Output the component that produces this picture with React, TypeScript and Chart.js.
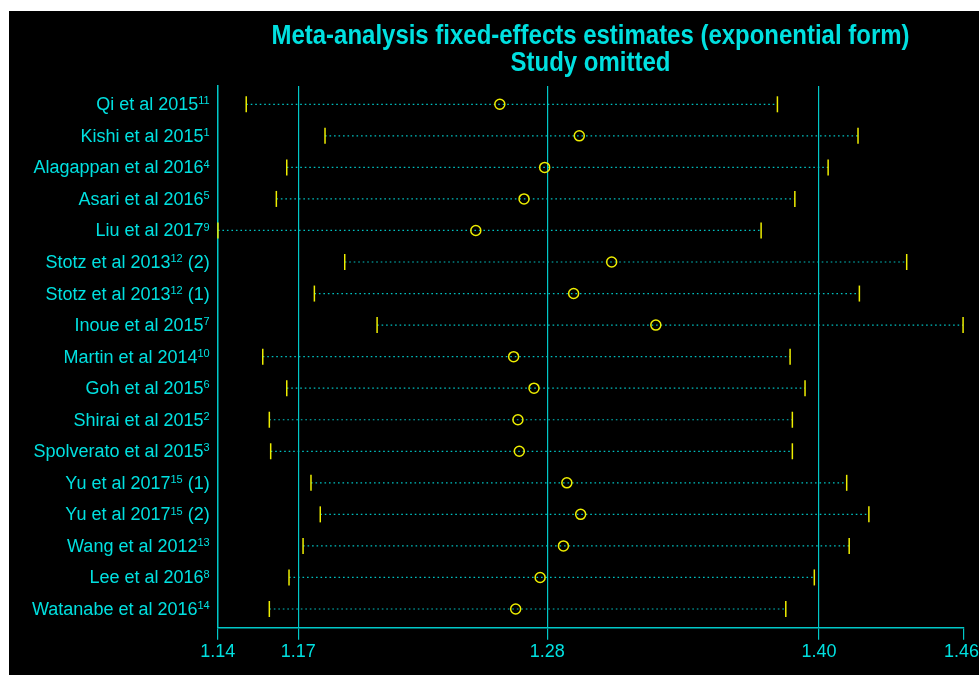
import React, { useEffect, useRef } from "react";
import { Chart, registerables } from "chart.js";

Chart.register(...registerables);

const studyNames = [
  "Qi et al 2015",
  "Kishi et al 2015",
  "Alagappan et al 2016",
  "Asari et al 2016",
  "Liu et al 2017",
  "Stotz et al 2013",
  "Stotz et al 2013",
  "Inoue et al 2015",
  "Martin et al 2014",
  "Goh et al 2015",
  "Shirai et al 2015",
  "Spolverato et al 2015",
  "Yu et al 2017",
  "Yu et al 2017",
  "Wang et al 2012",
  "Lee et al 2016",
  "Watanabe et al 2016",
];
const refNumbers = [
  "11", "1", "4", "5", "9", "12", "12", "7", "10", "6", "2", "3", "15", "15", "13", "8", "14",
];
const studySuffix = [
  "", "", "", "", "", " (2)", " (1)", "", "", "", "", "", " (1)", " (2)", "", "", "",
];

const estimates = [
  1.259, 1.2941, 1.2788, 1.2697, 1.2484, 1.3084, 1.2916, 1.3279, 1.2651,
  1.2741, 1.267, 1.2676, 1.2886, 1.2947, 1.2871, 1.2768, 1.266,
];
const lowerCI = [
  1.147, 1.1818, 1.1649, 1.1603, 1.1345, 1.1905, 1.1771, 1.2048, 1.1543,
  1.1649, 1.1572, 1.1578, 1.1756, 1.1797, 1.1721, 1.1659, 1.1572,
];
const upperCI = [
  1.3816, 1.4172, 1.404, 1.3893, 1.3744, 1.4387, 1.4178, 1.4636, 1.3872,
  1.3938, 1.3882, 1.3882, 1.4122, 1.422, 1.4133, 1.3979, 1.3853,
];

const xTickValues = [1.1344, 1.17, 1.28, 1.4, 1.4637];
const xTickLabels = ["1.14", "1.17", "1.28", "1.40", "1.46"];

const titleLines = [
  "Meta-analysis fixed-effects estimates (exponential form)",
  "Study omitted",
];

const TEXT = "#00e0e0";
const AXIS = "#00c8c8";
const DOT = "#00c0c0";
const YEL = "#eeee00";
const SANS = "'Liberation Sans', Arial, sans-serif";

const titlePlugin = {
  id: "condensedTitle",
  afterDraw(chart: any) {
    const ctx = chart.ctx as CanvasRenderingContext2D;
    const area = chart.chartArea;
    const cx = (area.left + area.right) / 2;
    ctx.save();
    ctx.fillStyle = TEXT;
    ctx.font = `bold 27px ${SANS}`;
    ctx.textAlign = "center";
    ctx.textBaseline = "middle";
    const w0 = ctx.measureText(titleLines[0]).width;
    const k = 638 / w0;
    ctx.translate(cx, 0);
    ctx.scale(k, 1);
    ctx.fillText(titleLines[0], 0, 26);
    ctx.fillText(titleLines[1], 0, 53);
    ctx.restore();
  },
};

const labelPlugin = {
  id: "axisLabels",
  afterDraw(chart: any) {
    const ctx = chart.ctx as CanvasRenderingContext2D;
    const yScale = chart.scales.y;
    const xScale = chart.scales.x;
    const right = chart.chartArea.left - 8;
    ctx.save();
    ctx.fillStyle = TEXT;
    ctx.textBaseline = "alphabetic";
    ctx.textAlign = "left";
    studyNames.forEach((name, i) => {
      const y = yScale.getPixelForValue(i + 1) + 6;
      ctx.font = `18px ${SANS}`;
      const wBase = ctx.measureText(name).width;
      const wSuf = ctx.measureText(studySuffix[i]).width;
      ctx.font = `11px ${SANS}`;
      const wSup = ctx.measureText(refNumbers[i]).width;
      let x = right - (wBase + wSup + wSuf);
      ctx.font = `18px ${SANS}`;
      ctx.fillText(name, x, y);
      x += wBase;
      ctx.font = `11px ${SANS}`;
      ctx.fillText(refNumbers[i], x, y - 5.8);
      x += wSup;
      if (studySuffix[i]) {
        ctx.font = `18px ${SANS}`;
        ctx.fillText(studySuffix[i], x, y);
      }
    });
    ctx.font = `18px ${SANS}`;
    ctx.textBaseline = "top";
    ctx.textAlign = "left";
    const ty = chart.chartArea.bottom + 15;
    xTickValues.forEach((v, i) => {
      const w = ctx.measureText(xTickLabels[i]).width;
      let lx = xScale.getPixelForValue(v) - w / 2;
      if (lx + w > chart.width) lx = chart.width - w;
      ctx.fillText(xTickLabels[i], lx, ty);
    });
    ctx.restore();
  },
};

export default function App() {
  const ref = useRef<HTMLCanvasElement | null>(null);

  useEffect(() => {
    if (!ref.current) return;
    const ciSets = studyNames.map((_, i) => ({
      type: "line" as const,
      data: [
        { x: lowerCI[i], y: i + 1 },
        { x: upperCI[i], y: i + 1 },
      ],
      borderColor: DOT,
      borderWidth: 1.2,
      borderDash: [1.6, 2.9],
      pointStyle: "line" as const,
      rotation: 90,
      pointRadius: 8,
      pointBorderColor: YEL,
      pointBorderWidth: 1.5,
      pointBackgroundColor: YEL,
      pointHoverRadius: 8,
      clip: false as any,
      order: 2,
    }));
    const estSet = {
      type: "scatter" as const,
      data: estimates.map((v, i) => ({ x: v, y: i + 1 })),
      pointStyle: "circle" as const,
      pointRadius: 5,
      pointBorderWidth: 1.5,
      pointBorderColor: YEL,
      pointBackgroundColor: "rgba(0,0,0,0)",
      showLine: false,
      clip: false as any,
      order: 1,
    };

    const chart = new Chart(ref.current, {
      type: "line",
      data: { datasets: [...ciSets, estSet] as any },
      plugins: [titlePlugin, labelPlugin],
      options: {
        animation: false,
        responsive: false,
        events: [],
        layout: { padding: { left: 0, right: 15.7, top: 75, bottom: 0 } },
        plugins: {
          legend: { display: false },
          tooltip: { enabled: false },
          title: { display: false },
        },
        scales: {
          x: {
            type: "linear",
            min: xTickValues[0],
            max: xTickValues[xTickValues.length - 1],
            afterBuildTicks: (scale: any) => {
              scale.ticks = xTickValues.map((v) => ({ value: v }));
            },
            afterFit: (scale: any) => {
              scale.height = 47.3;
              scale.paddingLeft = 0;
              scale.paddingRight = 0;
            },
            ticks: { display: false, autoSkip: false },
            grid: {
              color: (ctx: any) =>
                ctx.index === 0 || ctx.index === xTickValues.length - 1
                  ? "rgba(0,0,0,0)"
                  : AXIS,
              tickColor: AXIS,
              tickLength: 12,
              lineWidth: 1.2,
              drawTicks: true,
            },
            border: { display: true, color: AXIS, width: 1.5 },
          },
          y: {
            type: "linear",
            reverse: true,
            min: 0.42,
            max: 17.593,
            afterBuildTicks: (scale: any) => {
              scale.ticks = studyNames.map((_, i) => ({ value: i + 1 }));
            },
            afterFit: (scale: any) => {
              scale.width = 208.7;
            },
            ticks: { display: false },
            grid: { display: false, drawTicks: false },
            border: { display: true, color: AXIS, width: 1.5 },
          },
        },
      },
    });
    return () => chart.destroy();
  }, []);

  return (
    <div
      style={{
        position: "fixed",
        left: 9,
        top: 11,
        width: 970,
        height: 664,
        background: "#000",
      }}
    >
      <canvas ref={ref} width={970} height={664} style={{ display: "block" }} />
    </div>
  );
}
